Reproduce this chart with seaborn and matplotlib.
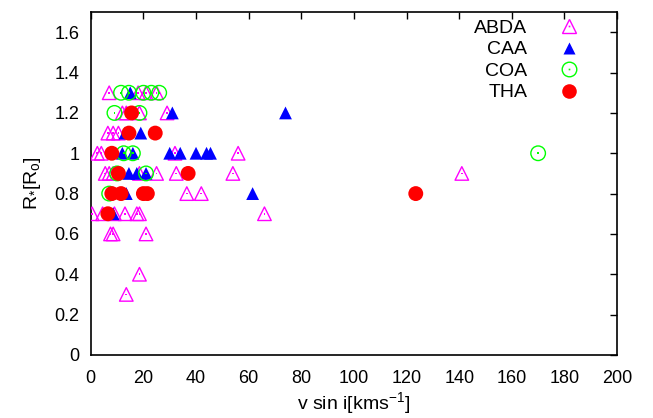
import numpy as np
import pandas as pd
import matplotlib
matplotlib.use("Agg")
import matplotlib.pyplot as plt
from matplotlib.lines import Line2D
from matplotlib.ticker import FuncFormatter, MultipleLocator
from matplotlib.legend_handler import HandlerTuple
import seaborn as sns

# values (v sin i in km/s, radius in solar radii)
abda_v = [7, 18, 21, 25, 12, 13.5, 18.5, 29, 6.5, 8.5, 10.5, 2.5, 4, 32, 56,
          5.5, 7, 8.5, 18.5, 25, 32.5, 54, 141, 36.5, 42,
          0.5, 4.5, 9, 13, 17.5, 18.5, 66, 7.5, 8.5, 21, 18.5, 13.5]
abda_r = [1.3, 1.3, 1.3, 1.3, 1.2, 1.2, 1.2, 1.2, 1.1, 1.1, 1.1, 1.0, 1.0, 1.0, 1.0,
          0.9, 0.9, 0.9, 0.9, 0.9, 0.9, 0.9, 0.9, 0.8, 0.8,
          0.7, 0.7, 0.7, 0.7, 0.7, 0.7, 0.7, 0.6, 0.6, 0.6, 0.4, 0.3]

caa_v = [15, 31, 74, 13, 19, 12, 16, 30, 34, 40, 44, 45.5, 14.5, 17.5, 21, 13.5, 61.5, 8.5]
caa_r = [1.3, 1.2, 1.2, 1.1, 1.1, 1.0, 1.0, 1.0, 1.0, 1.0, 1.0, 1.0, 0.9, 0.9, 0.9, 0.8, 0.8, 0.7]

coa_v = [11.5, 14.5, 20, 23, 26, 9, 18.5, 12.5, 16, 10, 21, 7, 170]
coa_r = [1.3, 1.3, 1.3, 1.3, 1.3, 1.2, 1.2, 1.0, 1.0, 0.9, 0.9, 0.8, 1.0]

tha_v = [15.5, 14.5, 24.5, 8, 10.5, 37, 8, 11.5, 20, 21.5, 123.5, 6.5]
tha_r = [1.2, 1.1, 1.1, 1.0, 0.9, 0.9, 0.8, 0.8, 0.8, 0.8, 0.8, 0.7]

sns.set_style("white")
plt.rcParams['font.family'] = ['Liberation Sans', 'DejaVu Sans']
plt.rcParams['mathtext.default'] = 'regular'
plt.rcParams['text.color'] = 'black'
plt.rcParams['axes.labelcolor'] = 'black'
plt.rcParams['xtick.color'] = 'black'
plt.rcParams['ytick.color'] = 'black'

fig = plt.figure(figsize=(6.53, 4.18), dpi=100)
ax = fig.add_axes([0.139, 0.151, 0.806, 0.820])

MAG = '#ff00ff'
BLUE = '#0000ff'
GREEN = '#00ff00'
RED = '#ff0000'

# ABDA: open triangles with a centre dot
sns.scatterplot(x=abda_v, y=abda_r, ax=ax, marker='^', s=95,
                facecolor='none', edgecolor=MAG, linewidth=1.0, zorder=3)
sns.scatterplot(x=abda_v, y=abda_r, ax=ax, marker='s', s=1.5,
                color=MAG, edgecolor='none', linewidth=0, zorder=3)
# CAA: filled triangles
sns.scatterplot(x=caa_v, y=caa_r, ax=ax, marker='^', s=85,
                color=BLUE, edgecolor='none', linewidth=0, zorder=4)
# COA: open circles with a centre dot
sns.scatterplot(x=coa_v, y=coa_r, ax=ax, marker='o', s=110,
                facecolor='none', edgecolor=GREEN, linewidth=1.0, zorder=5)
sns.scatterplot(x=coa_v, y=coa_r, ax=ax, marker='s', s=1.5,
                color=GREEN, edgecolor='none', linewidth=0, zorder=5)
# THA: filled circles
sns.scatterplot(x=tha_v, y=tha_r, ax=ax, marker='o', s=115,
                color=RED, edgecolor='none', linewidth=0, zorder=6)

ax.set_xlim(0, 200)
ax.set_ylim(0, 1.7)
ax.xaxis.set_major_locator(MultipleLocator(20))
ax.yaxis.set_major_locator(MultipleLocator(0.2))
fmt = FuncFormatter(lambda v, p: '%g' % round(v, 6))
ax.xaxis.set_major_formatter(fmt)
ax.yaxis.set_major_formatter(fmt)
ax.tick_params(direction='in', length=5, width=1, color='black',
               top=True, right=True, labelsize=13)
ax.tick_params(axis='x', pad=11)
ax.tick_params(axis='y', pad=8)
for sp in ax.spines.values():
    sp.set_color('black')
    sp.set_linewidth(1.2)

ax.set_xlabel(r'v sin i[kms$^{-1}$]', fontsize=14, labelpad=2)
ax.set_ylabel(r'R$_{*}$[R$_{o}$]', fontsize=14, labelpad=8)

handles = [
    (Line2D([], [], ls='none', marker='^', ms=9.5, mfc='none', mec=MAG, mew=1.0),
     Line2D([], [], ls='none', marker='s', ms=1.2, mfc=MAG, mec='none')),
    Line2D([], [], ls='none', marker='^', ms=9, mfc=BLUE, mec='none'),
    (Line2D([], [], ls='none', marker='o', ms=10.5, mfc='none', mec=GREEN, mew=1.0),
     Line2D([], [], ls='none', marker='s', ms=1.2, mfc=GREEN, mec='none')),
    Line2D([], [], ls='none', marker='o', ms=10.5, mfc=RED, mec='none'),
]
ax.legend(handles, ['ABDA', 'CAA', 'COA', 'THA'],
          handler_map={tuple: HandlerTuple(ndivide=1, pad=0)},
          loc='upper right', bbox_to_anchor=(0.964, 1.03), frameon=False,
          markerfirst=False, fontsize=14, handlelength=1.2, handletextpad=1.55,
          labelspacing=0.2, borderpad=0.4)

fig.savefig('out.png', dpi=100)
